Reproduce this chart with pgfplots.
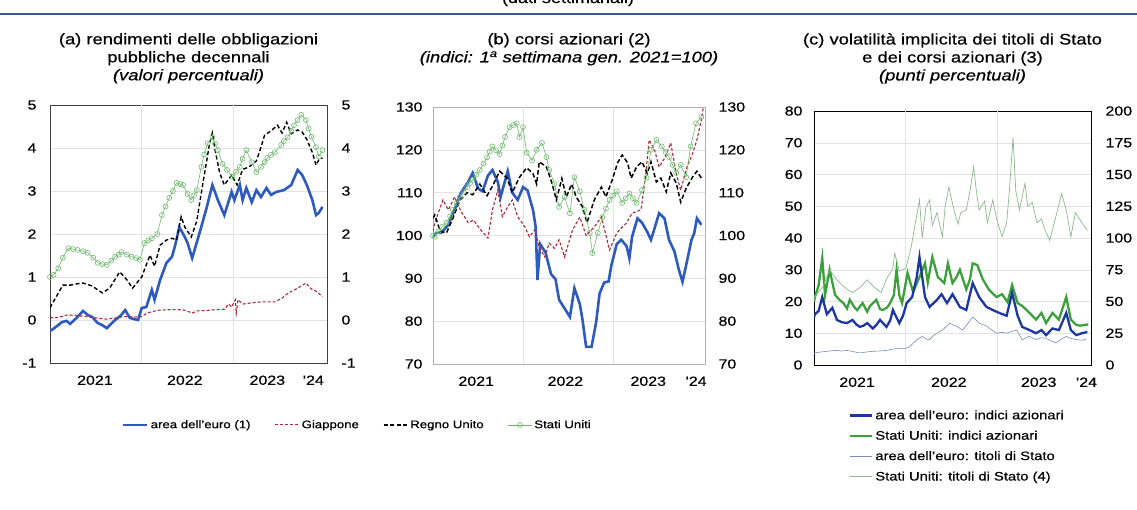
\documentclass[border=0pt]{standalone}
\usepackage{fontspec}
\setmainfont{Liberation Sans}[FakeStretch=1.2,FakeBold=0.5]
\usepackage{pgfplots}
\pgfplotsset{compat=1.18}
\definecolor{eublue}{RGB}{45,90,190}
\definecolor{jpred}{RGB}{170,40,55}
\definecolor{usgreen}{RGB}{110,185,110}
\definecolor{cblue}{RGB}{30,55,160}
\definecolor{cgreen}{RGB}{60,160,60}
\definecolor{cgray}{RGB}{120,140,185}
\definecolor{cmove}{RGB}{140,185,140}
\definecolor{rule}{RGB}{60,90,150}
\pgfplotsset{
  panel/.style={scale only axis, xmin=2021, xmax=2024.02,
    major tick length=0pt, tick style={draw=none},
    ymajorgrids, grid style={gray!22, line width=0.5pt},
    extra x ticks={2022,2023}, extra x tick labels={},
    extra x tick style={grid=major, major tick length=0pt},
    ticklabel style={font=\fontsize{13.3}{15}\selectfont},
    /pgf/number format/assume math mode=true,
    xticklabel style={yshift=-9pt},
    title style={at={(0.5,1)}, anchor=north, align=center, inner sep=0pt,
      font=\fontsize{15.3}{18}\selectfont},
    legend image code/.code={\draw[mark repeat=2,mark phase=2,#1] plot coordinates {(0pt,0pt) (12pt,0pt) (24pt,0pt)};},
  },
  rightaxis/.style={scale only axis, xmin=2021, xmax=2024.02,
    axis x line=none, axis y line*=right, y axis line style={draw=none},
    major tick length=0pt, tick style={draw=none},
    ticklabel style={font=\fontsize{13.3}{15}\selectfont},
    /pgf/number format/assume math mode=true},
}
\begin{document}
\begin{tikzpicture}[x=1pt,y=1pt]
\useasboundingbox (0,0) rectangle (1137,509);
\draw[rule, line width=1.8pt] (0,495) -- (1137,495);
\node[anchor=base, font=\fontsize{15}{18}\selectfont] at (568,506) {(dati settimanali)};

% ---------------- panel (a)
\begin{axis}[panel, at={(50pt,146pt)}, anchor=south west, width=277pt, height=258pt,
  ymin=-1, ymax=5, ytick={-1,0,1,2,3,4,5}, yticklabels={-1,0,1,2,3,4,5},
  yticklabel style={xshift=-10pt},
  xtick={2021.49,2022.47,2023.37,2023.87}, xticklabels={2021,2022,2023,'24},
  axis line style={draw=black!75, line width=0.9pt},
  title style={yshift=66pt},
  title={(a) rendimenti delle obbligazioni\\pubbliche decennali\\\textit{(valori percentuali)}},
  legend style={at={(1.11,-0.24)}, anchor=center, draw=none, fill=none, legend columns=4,
    font=\fontsize{11}{13}\selectfont, legend cell align=left,
    /tikz/every even column/.append style={column sep=22pt}},
]
\addplot[eublue, line width=2.6pt] coordinates {
(2021.0,-0.25)(2021.02,-0.23)(2021.07,-0.15)(2021.13,-0.05)(2021.18,-0.02)(2021.22,-0.09)(2021.29,0.05)(2021.36,0.21)(2021.41,0.12)(2021.46,0.07)(2021.52,-0.07)(2021.57,-0.12)(2021.62,-0.19)(2021.67,-0.08)(2021.71,0.0)(2021.77,0.1)(2021.82,0.23)(2021.87,0.05)(2021.92,0.02)(2021.96,0.0)(2022.0,0.28)(2022.05,0.3)(2022.11,0.7)(2022.14,0.47)(2022.2,0.93)(2022.27,1.33)(2022.33,1.47)(2022.36,1.7)(2022.41,2.16)(2022.47,1.93)(2022.5,1.79)(2022.55,1.44)(2022.63,2.02)(2022.71,2.63)(2022.77,3.14)(2022.83,2.79)(2022.9,2.44)(2022.98,2.98)(2023.01,2.79)(2023.07,3.14)(2023.1,2.79)(2023.14,3.07)(2023.2,2.74)(2023.25,3.02)(2023.3,2.86)(2023.36,3.07)(2023.41,2.91)(2023.47,2.98)(2023.55,3.02)(2023.63,3.14)(2023.7,3.49)(2023.75,3.37)(2023.8,3.14)(2023.86,2.79)(2023.9,2.44)(2023.93,2.49)(2023.97,2.63)};
\addlegendentry{area dell'euro (1)}
\addplot[jpred, line width=1.1pt, dash pattern=on 3pt off 2pt] coordinates {
(2021.0,0.05)(2021.1,0.06)(2021.15,0.1)(2021.2,0.12)(2021.3,0.1)(2021.4,0.08)(2021.5,0.05)(2021.6,0.02)(2021.7,0.04)(2021.8,0.08)(2021.9,0.07)(2022.0,0.08)(2022.05,0.15)(2022.12,0.2)(2022.2,0.23)(2022.3,0.24)(2022.4,0.24)(2022.47,0.23)(2022.55,0.16)(2022.6,0.21)(2022.7,0.22)(2022.8,0.24)(2022.9,0.25)(2022.95,0.37)(2022.98,0.3)(2023.02,0.47)(2023.03,0.16)(2023.05,0.47)(2023.1,0.37)(2023.2,0.4)(2023.3,0.42)(2023.45,0.42)(2023.53,0.51)(2023.6,0.63)(2023.7,0.74)(2023.79,0.86)(2023.85,0.72)(2023.9,0.67)(2023.97,0.55)};
\addlegendentry{Giappone}
\addplot[black, line width=1.4pt, dash pattern=on 4pt off 2.5pt] coordinates {
(2021.0,0.28)(2021.03,0.4)(2021.14,0.81)(2021.22,0.81)(2021.29,0.84)(2021.36,0.86)(2021.46,0.79)(2021.57,0.63)(2021.65,0.74)(2021.76,1.12)(2021.84,0.93)(2021.9,0.74)(2022.0,1.0)(2022.09,1.51)(2022.14,1.25)(2022.2,1.74)(2022.27,1.86)(2022.33,1.9)(2022.38,1.86)(2022.43,2.4)(2022.47,2.16)(2022.54,1.93)(2022.6,2.3)(2022.66,3.09)(2022.74,4.11)(2022.77,4.35)(2022.8,3.95)(2022.85,3.42)(2022.9,3.14)(2022.98,3.37)(2023.04,3.14)(2023.1,3.5)(2023.17,3.56)(2023.25,3.7)(2023.3,4.02)(2023.34,4.3)(2023.41,4.4)(2023.48,4.53)(2023.53,4.35)(2023.58,4.6)(2023.63,4.33)(2023.7,4.42)(2023.75,4.37)(2023.8,4.2)(2023.86,3.9)(2023.9,3.6)(2023.93,3.72)(2023.97,3.77)};
\addlegendentry{Regno Unito}
\addplot[usgreen, line width=0.6pt, mark=o, mark size=2.5pt, mark options={line width=0.6pt}] coordinates {
(2021.0,1.0)(2021.04,1.05)(2021.09,1.2)(2021.14,1.45)(2021.2,1.67)(2021.25,1.65)(2021.3,1.63)(2021.36,1.6)(2021.41,1.56)(2021.47,1.45)(2021.52,1.33)(2021.57,1.3)(2021.62,1.28)(2021.67,1.38)(2021.71,1.47)(2021.75,1.52)(2021.78,1.58)(2021.84,1.52)(2021.89,1.47)(2021.94,1.44)(2021.98,1.4)(2022.03,1.79)(2022.07,1.85)(2022.11,1.9)(2022.17,2.0)(2022.22,2.44)(2022.26,2.64)(2022.3,2.84)(2022.34,3.0)(2022.38,3.19)(2022.42,3.16)(2022.45,3.14)(2022.5,2.93)(2022.54,2.79)(2022.57,2.9)(2022.6,3.02)(2022.65,3.56)(2022.68,3.85)(2022.72,4.11)(2022.77,4.25)(2022.8,4.1)(2022.83,3.95)(2022.88,3.63)(2022.93,3.49)(2022.99,3.33)(2023.03,3.45)(2023.07,3.56)(2023.1,3.75)(2023.14,3.95)(2023.2,3.67)(2023.25,3.44)(2023.3,3.56)(2023.34,3.67)(2023.37,3.77)(2023.41,3.84)(2023.45,3.9)(2023.52,4.07)(2023.55,4.16)(2023.59,4.25)(2023.63,4.4)(2023.66,4.53)(2023.7,4.65)(2023.74,4.77)(2023.79,4.65)(2023.82,4.45)(2023.85,4.26)(2023.9,4.02)(2023.93,3.8)(2023.97,3.95)};
\addlegendentry{Stati Uniti}
\end{axis}
\begin{axis}[rightaxis, at={(50pt,146pt)}, anchor=south west, width=277pt, height=258pt,
  ymin=-1, ymax=5, ytick={-1,0,1,2,3,4,5}, yticklabels={-1,0,1,2,3,4,5},
  yticklabel style={xshift=11pt}]
\end{axis}

% ---------------- panel (b)
\begin{axis}[panel, at={(433pt,145pt)}, anchor=south west, width=272pt, height=257pt,
  ymin=70, ymax=130, ytick={70,80,...,130},
  yticklabel style={xshift=-7pt},
  xtick={2021.48,2022.47,2023.39,2023.92}, xticklabels={2021,2022,2023,'24},
  axis line style={draw=black!30, line width=0.8pt},
  title style={yshift=68pt},
  title={(b) corsi azionari (2)\\\textit{(indici: 1\textsuperscript{a} settimana gen. 2021=100)}},
]
\addplot[eublue, line width=2.6pt] coordinates {
(2021.0,100)(2021.04,100.6)(2021.09,100.6)(2021.17,102.5)(2021.24,106)(2021.31,110)(2021.39,112.5)(2021.44,114.6)(2021.5,111)(2021.55,110.3)(2021.61,114)(2021.66,115.3)(2021.72,112.5)(2021.75,109)(2021.83,115)(2021.88,110)(2021.94,108.3)(2022.0,111.3)(2022.05,110.5)(2022.11,106)(2022.14,102)(2022.16,89.6)(2022.19,98)(2022.25,96)(2022.31,91)(2022.36,89.8)(2022.4,85)(2022.46,83)(2022.52,81)(2022.57,87.7)(2022.63,84)(2022.66,80.3)(2022.7,74)(2022.76,74)(2022.81,79.6)(2022.85,86.5)(2022.9,89)(2022.95,89.3)(2022.98,93)(2023.04,98)(2023.09,99)(2023.15,97.5)(2023.18,94.7)(2023.21,99.7)(2023.27,104)(2023.32,103)(2023.38,100.8)(2023.42,99)(2023.46,101.7)(2023.51,105.2)(2023.57,104)(2023.62,99)(2023.68,96.3)(2023.73,92)(2023.77,89.2)(2023.81,93)(2023.87,99)(2023.9,100.5)(2023.93,104)(2023.98,102.5)};
\addplot[jpred, line width=1.1pt, dash pattern=on 3pt off 2pt] coordinates {
(2021.0,101)(2021.02,103)(2021.11,108.3)(2021.17,106)(2021.24,109)(2021.31,105.7)(2021.39,103)(2021.45,103.6)(2021.53,101.3)(2021.61,99.4)(2021.66,106)(2021.72,110.6)(2021.77,104.4)(2021.83,106.7)(2021.88,108.3)(2021.94,104.4)(2022.02,102)(2022.07,99.7)(2022.13,101.3)(2022.18,97.3)(2022.24,95)(2022.29,98.2)(2022.35,97)(2022.4,99)(2022.46,95)(2022.55,101.3)(2022.63,104.3)(2022.7,100)(2022.79,102)(2022.87,104.3)(2022.96,96.6)(2023.04,100.6)(2023.15,103)(2023.21,105.2)(2023.31,106)(2023.36,114)(2023.4,122.3)(2023.46,120)(2023.51,116)(2023.57,118)(2023.64,121.6)(2023.7,114.5)(2023.75,110.6)(2023.82,116)(2023.88,119)(2023.93,122.3)(2023.98,127)(2024.0,129.8)};
\addplot[black, line width=1.5pt, dash pattern=on 4.5pt off 2.5pt] coordinates {
(2021.0,104)(2021.02,104.8)(2021.08,101)(2021.15,100.6)(2021.22,104)(2021.3,108.3)(2021.38,110)(2021.44,109.5)(2021.52,112)(2021.6,109.3)(2021.66,111.5)(2021.74,115)(2021.82,113.5)(2021.88,110)(2021.96,113.6)(2022.04,115.8)(2022.11,114.5)(2022.15,112)(2022.18,117.2)(2022.26,116)(2022.32,112.3)(2022.37,108.3)(2022.43,113.3)(2022.48,109)(2022.54,112)(2022.59,109)(2022.66,106.7)(2022.71,103)(2022.79,108.3)(2022.87,111.3)(2022.92,109)(2022.99,113)(2023.05,117)(2023.1,118.8)(2023.16,117)(2023.2,113.4)(2023.26,116)(2023.32,117.2)(2023.38,114.5)(2023.42,117.2)(2023.48,112.5)(2023.53,113.4)(2023.59,110.2)(2023.64,114.6)(2023.7,112.3)(2023.75,107.8)(2023.81,111)(2023.88,113.6)(2023.93,115)(2023.98,113.4)};
\addplot[usgreen, line width=0.6pt, mark=o, mark size=2.5pt, mark options={line width=0.6pt}] coordinates {
(2021.0,100)(2021.02,99.7)(2021.06,101)(2021.1,102)(2021.15,103)(2021.19,104.5)(2021.22,106)(2021.26,107.5)(2021.3,109)(2021.34,110.2)(2021.38,111.3)(2021.41,112.2)(2021.44,113)(2021.48,114.2)(2021.52,115.3)(2021.56,116.8)(2021.6,118.3)(2021.63,119.6)(2021.66,120.8)(2021.7,119.9)(2021.74,119)(2021.77,121)(2021.8,123)(2021.85,125.3)(2021.89,125.8)(2021.93,126.2)(2021.96,123)(2022.0,125.3)(2022.04,119.3)(2022.1,117.5)(2022.15,120)(2022.21,121.6)(2022.26,118.3)(2022.29,115.3)(2022.35,112)(2022.4,106.7)(2022.46,109)(2022.52,105.2)(2022.57,113.6)(2022.63,110.3)(2022.68,106)(2022.74,100.6)(2022.77,95.9)(2022.83,100.6)(2022.88,104.3)(2022.92,106.3)(2022.96,108.3)(2023.0,109.3)(2023.04,110.3)(2023.1,107.6)(2023.14,108.7)(2023.18,109.8)(2023.22,108.7)(2023.26,107.6)(2023.32,110.6)(2023.37,113.5)(2023.42,120)(2023.48,122.3)(2023.54,120.8)(2023.58,119.5)(2023.62,118.3)(2023.66,116.5)(2023.7,114.6)(2023.75,116.5)(2023.81,113.6)(2023.86,120.8)(2023.92,126.2)(2023.98,127.7)};
\end{axis}
\begin{axis}[rightaxis, at={(433pt,145pt)}, anchor=south west, width=272pt, height=257pt,
  ymin=70, ymax=130, ytick={70,80,...,130}, yticklabel style={xshift=10pt}]
\end{axis}

% ---------------- panel (c)
\begin{axis}[panel, at={(814pt,144pt)}, anchor=south west, width=277pt, height=254pt,
  ymin=0, ymax=80, ytick={0,10,...,80},
  yticklabel style={xshift=-8pt},
  xtick={2021.47,2022.47,2023.45,2023.97}, xticklabels={2021,2022,2023,'24},
  axis line style={draw=black, line width=1pt},
  title style={yshift=72pt},
  title={(c) volatilità implicita dei titoli di Stato\\e dei corsi azionari (3)\\\textit{(punti percentuali)}},
]
\addplot[cgray, line width=0.6pt] coordinates {
(2021.0,3.6)(2021.01,3.8)(2021.07,4.1)(2021.14,4.3)(2021.2,4.5)(2021.25,4.6)(2021.3,4.4)(2021.36,4.6)(2021.43,4.2)(2021.5,3.8)(2021.57,4.1)(2021.64,4.3)(2021.72,4.4)(2021.79,4.6)(2021.86,5.0)(2021.93,5.3)(2021.98,5.1)(2022.04,5.7)(2022.08,6.8)(2022.12,7.9)(2022.18,9)(2022.22,8.2)(2022.26,8)(2022.3,9.2)(2022.34,10)(2022.4,11)(2022.44,12.1)(2022.48,13.2)(2022.52,12.6)(2022.55,12.3)(2022.62,11)(2022.67,12.8)(2022.73,15.1)(2022.77,14.1)(2022.8,13.2)(2022.88,12.3)(2022.93,11.2)(2022.99,10)(2023.05,10.3)(2023.1,10)(2023.16,10.6)(2023.21,11)(2023.24,9.5)(2023.27,7.9)(2023.31,8.6)(2023.35,9)(2023.42,8)(2023.48,8.6)(2023.53,8.4)(2023.58,7.6)(2023.64,7)(2023.7,8.2)(2023.75,9)(2023.8,8.4)(2023.86,8)(2023.92,7.8)(2023.97,8.2)};
\addplot[cgreen, line width=2.3pt] coordinates {
(2021.0,20)(2021.01,21.4)(2021.05,25)(2021.09,33.7)(2021.12,22)(2021.17,30)(2021.23,22)(2021.28,20.5)(2021.32,19.5)(2021.36,17.8)(2021.39,20.5)(2021.44,18.2)(2021.47,17.3)(2021.53,19.5)(2021.58,16.8)(2021.61,18.6)(2021.68,20.5)(2021.72,17.6)(2021.75,17.3)(2021.8,18.2)(2021.83,19.5)(2021.87,22)(2021.9,30)(2021.93,22)(2021.96,19.5)(2022.02,29)(2022.08,23)(2022.15,27.7)(2022.21,32)(2022.24,26)(2022.29,34)(2022.35,27.7)(2022.42,25.8)(2022.46,32)(2022.51,25.8)(2022.55,27.5)(2022.59,30)(2022.66,23.8)(2022.7,27)(2022.73,32)(2022.78,31.5)(2022.84,27)(2022.91,23.6)(2022.95,22.5)(2022.99,21.4)(2023.05,22.3)(2023.11,19.8)(2023.16,25.2)(2023.22,19.5)(2023.27,18.6)(2023.31,17.5)(2023.35,16.4)(2023.42,14.3)(2023.48,16.4)(2023.53,13.2)(2023.6,16.4)(2023.64,15.2)(2023.67,14.3)(2023.75,21.4)(2023.8,14.3)(2023.86,12.6)(2023.9,12.4)(2023.95,12.6)(2023.99,12.8)};
\addplot[cblue, line width=2.3pt] coordinates {
(2021.0,15)(2021.01,16)(2021.05,17)(2021.09,21.4)(2021.14,16)(2021.2,18)(2021.25,14.2)(2021.3,13.5)(2021.36,13.2)(2021.42,14.2)(2021.46,12.8)(2021.5,12)(2021.54,12.4)(2021.58,13.2)(2021.64,11.5)(2021.68,12.6)(2021.72,14.2)(2021.79,12)(2021.83,14)(2021.86,17.3)(2021.93,13.2)(2021.97,15.5)(2022.01,19.5)(2022.07,21.4)(2022.12,27.7)(2022.15,34)(2022.21,21.4)(2022.26,18.3)(2022.34,20.5)(2022.39,22.3)(2022.45,19.5)(2022.51,22.3)(2022.59,18.3)(2022.66,17.3)(2022.73,25.8)(2022.8,21.4)(2022.88,18.3)(2022.95,17.3)(2023.02,16.4)(2023.1,15.5)(2023.16,22.7)(2023.22,15.5)(2023.27,12)(2023.35,11)(2023.42,10)(2023.48,11)(2023.53,9.4)(2023.6,11.5)(2023.67,11)(2023.75,16.4)(2023.8,11)(2023.86,9.4)(2023.92,10)(2023.98,10.4)};
\end{axis}
\begin{axis}[rightaxis, at={(814pt,144pt)}, anchor=south west, width=277pt, height=254pt,
  ymin=0, ymax=200, ytick={0,25,...,200}, yticklabel style={xshift=11pt},
  legend style={at={(0.115,-0.162)}, anchor=north west, draw=none, fill=none,
    font=\fontsize{12.3}{14}\selectfont, legend cell align=left, row sep=6pt},
  legend image code/.code={\draw[#1] (0pt,0pt) -- (22pt,0pt);},
]
\addlegendimage{cblue, line width=2.3pt}
\addlegendentry{area dell'euro: indici azionari}
\addlegendimage{cgreen, line width=2.3pt}
\addlegendentry{Stati Uniti: indici azionari}
\addlegendimage{cgray, line width=0.8pt}
\addlegendentry{area dell'euro: titoli di Stato}
\addplot[cmove, line width=0.7pt] coordinates {
(2021.0,52)(2021.02,55)(2021.1,62)(2021.17,75)(2021.25,67)(2021.35,60)(2021.42,57)(2021.5,61)(2021.58,67)(2021.66,61)(2021.73,57)(2021.8,69)(2021.86,76)(2021.88,88)(2021.93,74)(2022.0,76)(2022.06,93)(2022.11,114)(2022.15,130)(2022.18,100)(2022.22,124)(2022.26,130)(2022.29,110)(2022.34,120)(2022.4,101)(2022.43,125)(2022.47,140)(2022.53,121)(2022.57,111)(2022.6,120)(2022.66,122)(2022.7,137)(2022.74,156)(2022.77,137)(2022.8,122)(2022.86,129)(2022.89,112)(2022.95,130)(2022.99,115)(2023.05,101)(2023.1,112)(2023.13,137)(2023.17,179)(2023.2,137)(2023.24,122)(2023.3,143)(2023.33,125)(2023.38,128)(2023.43,112)(2023.48,115)(2023.52,106)(2023.57,98)(2023.63,115)(2023.7,135)(2023.75,122)(2023.8,101)(2023.85,120)(2023.92,112)(2023.98,106)};
\addlegendentry{Stati Uniti: titoli di Stato (4)}
\end{axis}
\end{tikzpicture}
\end{document}
